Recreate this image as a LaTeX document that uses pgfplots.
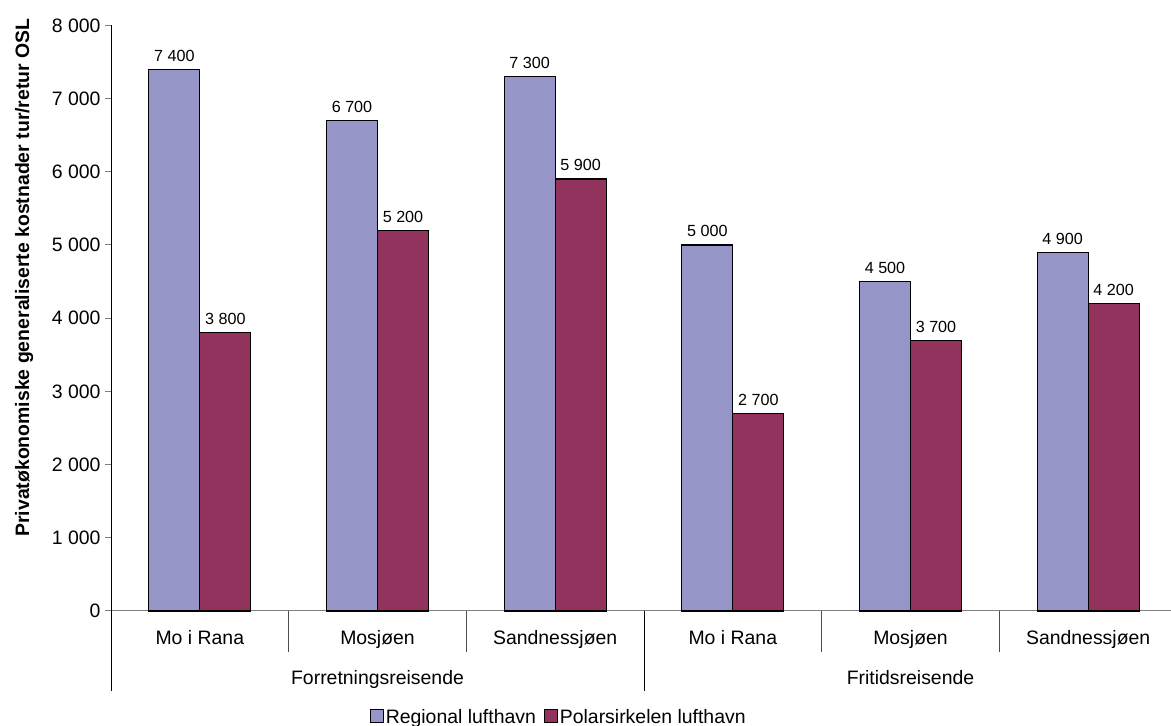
\documentclass[border=0pt]{standalone}
\usepackage{pgfplots}
\pgfplotsset{compat=1.18}
\usepackage{fontspec}
\setmainfont{Liberation Sans}
\definecolor{reg}{RGB}{149,149,200}
\definecolor{pol}{RGB}{146,51,94}
\definecolor{axgray}{RGB}{128,128,128}
\begin{document}
\begin{tikzpicture}[x=1bp,y=1bp]
\useasboundingbox (0,0) rectangle (1171,726);
\begin{axis}[
  at={(111bp,115bp)}, anchor=south west,
  scale only axis, width=1066bp, height=585.6bp,
  xmin=-0.5, xmax=5.5, ymin=0, ymax=8000,
  axis lines*=left,
  x axis line style={draw=axgray, line width=1pt, -},
  y axis line style={draw=black, line width=1pt, -},
  clip=false,
  ybar=0pt, bar width=51bp,
  /pgf/number format/assume math mode=true,
  /pgf/number format/1000 sep={\ },
  scaled y ticks=false,
  ytick={0,1000,...,8000},
  tick align=outside, major tick length=6bp,
  ytick style={draw=axgray, line width=1pt},
  xtick={0,1,2,3,4,5},
  xticklabels={Mo i Rana,Mosjøen,Sandnessjøen,Mo i Rana,Mosjøen,Sandnessjøen},
  xtick style={draw=none},
  tick label style={font=\fontsize{19.5}{23}\selectfont},
  yticklabel style={xshift=-1bp},
  xticklabel style={anchor=base, yshift=-28bp},
  ylabel={Privatøkonomiske generaliserte kostnader tur/retur OSL},
  every axis y label/.style={at={(axis description cs:-0.0815,0.5695)}, rotate=90, anchor=center, font=\bfseries\fontsize{19.5}{23}\selectfont},
  nodes near coords={\pgfmathprintnumber{\pgfplotspointmeta}},
  every node near coord/.append style={font=\fontsize{16.2}{19}\selectfont, anchor=south, yshift=4bp, text=black},
  legend columns=2,
  legend style={at={(axis description cs:0.42,-0.181)}, anchor=center, draw=none, fill=none,
    font=\fontsize{19.5}{23}\selectfont, inner xsep=0pt,
    /tikz/every even column/.append style={column sep=6bp}},
  legend image code/.code={\draw[#1, draw=black, line width=1pt] (0bp,-6bp) rectangle (13bp,7bp);},
]
\addplot[fill=reg, draw=black, line width=1.3pt] coordinates {(0,7400) (1,6700) (2,7300) (3,5000) (4,4500) (5,4900)};
\addlegendentry{Regional lufthavn}
\addplot[fill=pol, draw=black, line width=1.3pt] coordinates {(0,3800) (1,5200) (2,5900) (3,2700) (4,3700) (5,4200)};
\addlegendentry{Polarsirkelen lufthavn}
\draw[axgray!60!black, line width=1pt] (axis cs:0.5,0) -- ([yshift=-41bp]axis cs:0.5,0);
\draw[axgray!60!black, line width=1pt] (axis cs:1.5,0) -- ([yshift=-41bp]axis cs:1.5,0);
\draw[axgray!60!black, line width=1pt] (axis cs:3.5,0) -- ([yshift=-41bp]axis cs:3.5,0);
\draw[axgray!60!black, line width=1pt] (axis cs:4.5,0) -- ([yshift=-41bp]axis cs:4.5,0);
\draw[black, line width=1pt] (axis cs:-0.5,0) -- ([yshift=-80bp]axis cs:-0.5,0);
\draw[black, line width=1pt] (axis cs:2.5,0) -- ([yshift=-80bp]axis cs:2.5,0);
\draw[black, line width=1pt] (axis cs:5.5,0) -- ([yshift=-80bp]axis cs:5.5,0);
\node[anchor=base, font=\fontsize{19.5}{23}\selectfont, inner sep=0pt] at ([yshift=-74bp]axis cs:1,0) {Forretningsreisende};
\node[anchor=base, font=\fontsize{19.5}{23}\selectfont, inner sep=0pt] at ([yshift=-74bp]axis cs:4,0) {Fritidsreisende};
\end{axis}
\end{tikzpicture}
\end{document}
